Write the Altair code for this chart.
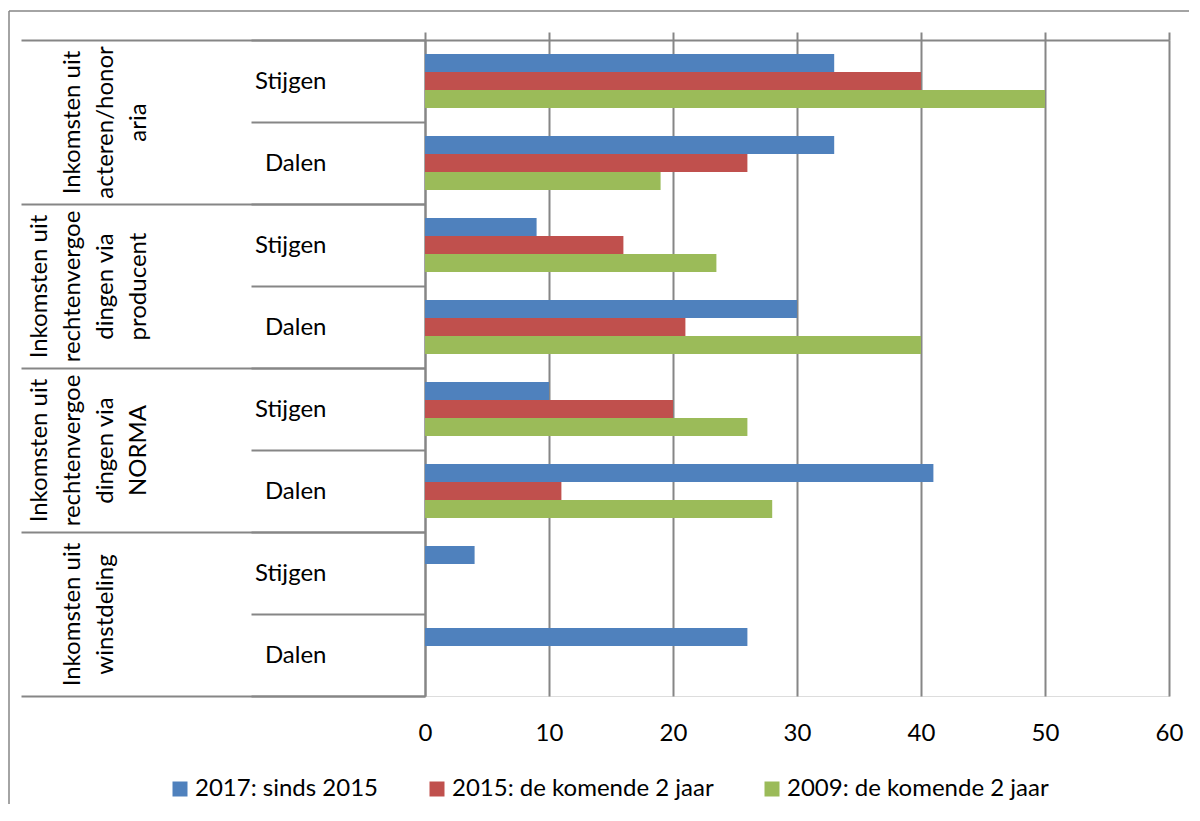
import altair as alt
import pandas as pd

# ---- data -------------------------------------------------------------
# group labels, wrapped as in the reference (leading blank lines keep the
# last line of every label in the same column)
groups = [
    "\nInkomsten uit\nacteren/honor\naria",
    "Inkomsten uit\nrechtenvergoe\ndingen via\nproducent",
    "Inkomsten uit\nrechtenvergoe\ndingen via\nNORMA",
    "\n\nInkomsten uit\nwinstdeling",
]
subs = ["Stijgen", "Dalen"]
series = ["2017: sinds 2015", "2015: de komende 2 jaar", "2009: de komende 2 jaar"]
colors = ["#4F81BD", "#C0504D", "#9BBB59"]

# values per row, in order: group1 Stijgen, group1 Dalen, group2 Stijgen, ...
v2017 = [33, 33, 9, 30, 10, 41, 4, 26]
v2015 = [40, 26, 16, 21, 20, 11, None, None]
v2009 = [50, 19, 23.5, 40, 26, 28, None, None]
x_ticks = [0, 10, 20, 30, 40, 50, 60]

FONT = "Lato"
FS = 24
GRAY = "#868686"

rows = [f"{g}|{s}" for g in groups for s in subs]
records = []
for name, vals in zip(series, [v2017, v2015, v2009]):
    for r, v in zip(rows, vals):
        if v is not None:
            records.append({"row": r, "series": name, "value": v})
df = pd.DataFrame(records)
gdf = pd.DataFrame({"group": groups})
tdf = pd.DataFrame({"t": x_ticks})
one = pd.DataFrame({"k": [0]})

# ---- bars + sub-category axis -----------------------------------------
bars = alt.Chart(df).mark_bar().encode(
    x=alt.X(
        "value:Q",
        scale=alt.Scale(domain=[0, 60], nice=False),
        axis=alt.Axis(
            orient="bottom", values=x_ticks, title=None, grid=True,
            gridColor=GRAY, gridWidth=2, ticks=False, domain=False,
            labelPadding=25, labelFlush=False, labelFont=FONT,
            labelFontSize=FS, labelColor="black",
        ),
    ),
    y=alt.Y(
        "row:N",
        scale=alt.Scale(domain=rows, paddingInner=0, paddingOuter=0),
        axis=alt.Axis(
            orient="left", title=None, tickBand="extent", tickSize=174,
            tickColor=GRAY, tickWidth=2, domainColor=GRAY, domainWidth=2,
            labelExpr="isValid(datum.value) ? split(datum.value, '|')[1] : ''",
            labelPadding=-75, labelAlign="right", labelBaseline="middle",
            labelFont=FONT, labelFontSize=FS, labelColor="black", grid=False,
        ),
    ),
    yOffset=alt.YOffset(
        "series:N",
        scale=alt.Scale(domain=series, paddingInner=0, paddingOuter=0.778),
    ),
    color=alt.Color(
        "series:N",
        scale=alt.Scale(domain=series, range=colors),
        legend=alt.Legend(
            orient="none", legendX=-257, legendY=737, direction="horizontal",
            title=None, symbolType="square", symbolSize=225,
            symbolStrokeWidth=0, labelFont=FONT, labelFontSize=FS,
            labelColor="black", columnPadding=46, labelOffset=3,
            labelLimit=500,
        ),
    ),
)

# ---- group axis --------------------------------------------------------
group_axis = alt.Chart(gdf).mark_point(opacity=0).encode(
    y=alt.Y(
        "group:N",
        scale=alt.Scale(domain=groups, paddingInner=0, paddingOuter=0),
        axis=alt.Axis(
            orient="left", title=None, tickBand="extent", tickSize=404,
            tickColor=GRAY, tickWidth=2, domain=False, grid=False,
            labelExpr="isValid(datum.value) ? split(datum.value, '\\n') : ''",
            labelPadding=-30, labelAngle=270, labelAlign="center",
            labelBaseline="bottom", labelLineHeight=33.3, labelLimit=400,
            labelOverlap=False, labelFont=FONT, labelFontSize=FS,
            labelColor="black",
        ),
    )
)

# ---- top value axis line -----------------------------------------------
top_axis = alt.Chart(tdf).mark_point(opacity=0).encode(
    x=alt.X(
        "t:Q",
        axis=alt.Axis(
            orient="top", values=x_ticks, title=None, labels=False,
            ticks=True, tickSize=8, tickColor=GRAY, tickWidth=2,
            domain=True, domainColor=GRAY, domainWidth=2, grid=False,
        ),
    )
)

# ---- chart-area frame (decoration) -------------------------------------
frame_v = alt.Chart(one).mark_rule(color=GRAY, strokeWidth=1.5).encode(
    x=alt.value(-416), y=alt.value(-29), y2=alt.value(770)
)
frame_h = alt.Chart(one).mark_rule(color=GRAY, strokeWidth=1.5).encode(
    x=alt.value(-416), x2=alt.value(770), y=alt.value(-29)
)

chart = (
    alt.layer(bars, group_axis, top_axis, frame_v, frame_h)
    .resolve_scale(y="independent")
    .resolve_axis(x="independent")
    .properties(
        width=744,
        height=656,
        autosize=alt.AutoSizeParams(type="none"),
        padding={"left": 417, "top": 32, "right": 20, "bottom": 108},
    )
    .configure_view(stroke=None)
    .configure(font=FONT)
)

chart.save("out.html", embed_options={"renderer": "svg", "actions": False})
